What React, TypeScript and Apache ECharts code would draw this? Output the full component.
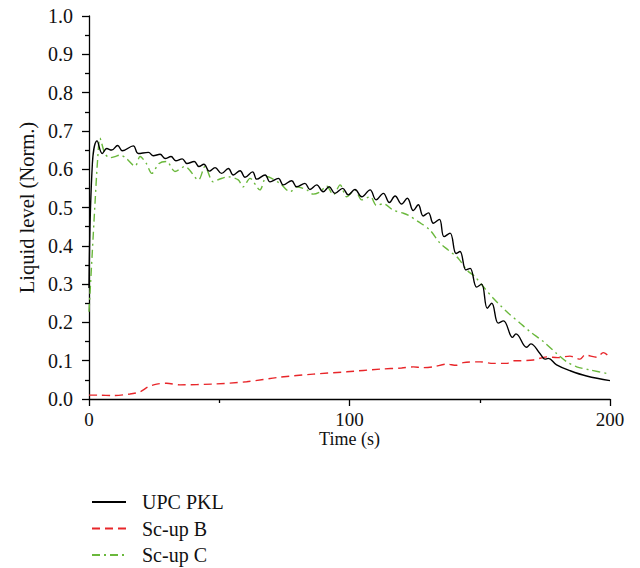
import React, { useEffect, useRef } from "react";
import * as echarts from "echarts";

// UPC PKL (black solid)
const tPKL = [0, 1.3, 3.1, 5.1, 6.8, 8.7, 11, 12.8, 17, 18.9, 22.8, 24.7, 27.3, 29.2, 31.5, 33.3, 35.8, 37.6, 40.4, 42.2, 44.1, 46.2, 48.4, 50.9, 53.5, 55.4, 58, 59.9, 62.8, 64.4, 67.6, 69.5, 72.7, 74.6, 77.8, 79.7, 82.9, 84.8, 87.4, 89.9, 92.2, 94.4, 97.4, 99.5, 102.1, 104.7, 107.9, 110.2, 113, 115.3, 117.5, 120, 122.2, 124.5, 126.4, 128.3, 130.3, 132.2, 134.5, 136.3, 138.6, 140.9, 142.4, 144.7, 146.3, 148.8, 150.7, 152.9, 154.6, 157.1, 159.1, 162.6, 163.9, 168, 169.6, 173.1, 175, 176.3, 179.5, 184.6, 191, 200];
const vPKL = [0.29, 0.615, 0.674, 0.641, 0.654, 0.65, 0.662, 0.648, 0.661, 0.641, 0.644, 0.635, 0.639, 0.628, 0.633, 0.622, 0.627, 0.615, 0.62, 0.607, 0.613, 0.595, 0.604, 0.589, 0.602, 0.585, 0.596, 0.579, 0.593, 0.574, 0.585, 0.567, 0.576, 0.559, 0.57, 0.554, 0.563, 0.547, 0.559, 0.541, 0.554, 0.537, 0.55, 0.533, 0.547, 0.528, 0.546, 0.52, 0.537, 0.513, 0.53, 0.509, 0.524, 0.492, 0.507, 0.478, 0.486, 0.459, 0.469, 0.424, 0.433, 0.38, 0.385, 0.337, 0.341, 0.292, 0.3, 0.237, 0.25, 0.198, 0.204, 0.161, 0.17, 0.135, 0.144, 0.119, 0.104, 0.106, 0.089, 0.074, 0.06, 0.048];

// Sc-up B (red dashed)
const tB = [0, 4, 9, 15.7, 19.6, 22.8, 26, 29.8, 34.9, 47.7, 60.5, 73.3, 86.1, 98.9, 111.7, 120, 124.5, 128, 132.2, 137.3, 141, 143.7, 150.1, 155.2, 160.3, 163, 165.5, 170.6, 175.7, 180, 184.6, 188.5, 190.4, 194.9, 197.4, 200];
const vB = [0.01, 0.01, 0.009, 0.013, 0.019, 0.032, 0.039, 0.041, 0.037, 0.039, 0.045, 0.057, 0.065, 0.071, 0.078, 0.081, 0.084, 0.082, 0.084, 0.091, 0.088, 0.095, 0.097, 0.093, 0.093, 0.1, 0.1, 0.102, 0.11, 0.108, 0.112, 0.104, 0.115, 0.109, 0.121, 0.109];

// Sc-up C (green dash-dot)
const tC = [0, 2.3, 3.3, 4.2, 6.1, 8, 10, 11.9, 14, 17.7, 19.6, 22, 24.1, 26.9, 29.8, 33, 36.8, 42, 44.5, 47.7, 50.5, 53.5, 57.3, 59.2, 61.8, 65.6, 68.2, 73.3, 77.2, 79.7, 83.6, 86, 88.7, 91.2, 93.8, 96.4, 98.9, 102.1, 104.7, 108, 110.4, 113, 116.8, 120.7, 123, 126.4, 130.9, 134.7, 137.9, 141.8, 145, 148.2, 151.4, 155.2, 157.8, 161, 165.5, 169.3, 174.4, 179.5, 183.4, 187.2, 192.3, 200];
const vC = [0.228, 0.51, 0.624, 0.681, 0.641, 0.63, 0.633, 0.637, 0.63, 0.608, 0.633, 0.615, 0.589, 0.615, 0.62, 0.594, 0.607, 0.572, 0.607, 0.567, 0.575, 0.58, 0.572, 0.554, 0.576, 0.546, 0.581, 0.563, 0.541, 0.554, 0.546, 0.535, 0.541, 0.556, 0.533, 0.559, 0.528, 0.546, 0.52, 0.528, 0.505, 0.51, 0.493, 0.485, 0.478, 0.463, 0.441, 0.407, 0.389, 0.367, 0.337, 0.319, 0.293, 0.263, 0.245, 0.224, 0.198, 0.176, 0.15, 0.119, 0.097, 0.084, 0.076, 0.065];

const seriesNames = ["UPC PKL", "Sc-up B", "Sc-up C"];
const xLabels = [0, 100, 200];

const zip = (t: number[], v: number[]) => t.map((x, i) => [x, v[i]]);

const FONT = "Liberation Serif";

export default function App() {
  const ref = useRef<HTMLDivElement>(null);
  useEffect(() => {
    if (!ref.current) return;
    const chart = echarts.init(ref.current, undefined, { renderer: "svg" });
    const axisLine = { show: true, lineStyle: { color: "#000", width: 1.3 } };
    chart.setOption({
      animation: false,
      backgroundColor: "#fff",
      grid: { left: 89, top: 16, width: 521, height: 383, containLabel: false },
      xAxis: {
        type: "value",
        min: 0,
        max: 200,
        interval: 100,
        name: "Time (s)",
        nameLocation: "middle",
        nameGap: 31,
        nameMoveOverlap: false,
        nameTextStyle: { fontFamily: FONT, fontSize: 18, color: "#111" },
        axisLine,
        axisTick: { show: true, length: 7, lineStyle: { color: "#000", width: 1.3 } },
        minorTick: { show: true, splitNumber: 2, length: 4, lineStyle: { color: "#000", width: 1.3 } },
        splitLine: { show: false },
        axisLabel: {
          fontFamily: FONT,
          fontSize: 19,
          color: "#111",
          margin: 11,
          formatter: (v: number) => (xLabels.includes(v) ? String(v) : ""),
        },
      },
      yAxis: {
        type: "value",
        min: 0,
        max: 1,
        interval: 0.1,
        name: "Liquid level (Norm.)",
        nameLocation: "middle",
        nameGap: 52,
        nameMoveOverlap: false,
        nameTextStyle: { fontFamily: FONT, fontSize: 20.5, color: "#111" },
        axisLine,
        axisTick: { show: true, length: 7, lineStyle: { color: "#000", width: 1.3 } },
        minorTick: { show: true, splitNumber: 2, length: 4, lineStyle: { color: "#000", width: 1.3 } },
        splitLine: { show: false },
        axisLabel: {
          fontFamily: FONT,
          fontSize: 20,
          color: "#111",
          margin: 16,
          formatter: (v: number) => v.toFixed(1),
        },
      },
      legend: {
        orient: "vertical",
        left: 91,
        top: 492,
        padding: 0,
        itemWidth: 34,
        itemHeight: 14,
        itemGap: 6.5,
        itemStyle: { opacity: 0 },
        textStyle: { fontFamily: FONT, fontSize: 20, color: "#111", lineHeight: 20, padding: [0, 0, 0, 11] },
        data: seriesNames,
      },
      series: [
        {
          name: seriesNames[0],
          type: "line",
          data: zip(tPKL, vPKL),
          symbol: "none",
          smooth: 0.4,
          lineStyle: { color: "#000", width: 1.4, type: "solid" },
          itemStyle: { color: "#000" },
          z: 3,
        },
        {
          name: seriesNames[1],
          type: "line",
          data: zip(tB, vB),
          symbol: "none",
          smooth: 0.3,
          lineStyle: { color: "#e8262a", width: 1.4, type: [8, 5] },
          itemStyle: { color: "#e8262a" },
          z: 2,
        },
        {
          name: seriesNames[2],
          type: "line",
          data: zip(tC, vC),
          symbol: "none",
          smooth: 0.3,
          lineStyle: { color: "#6ab83c", width: 1.4, type: [8, 4, 2, 4] },
          itemStyle: { color: "#6ab83c" },
          z: 2,
        },
      ],
    });
    return () => chart.dispose();
  }, []);
  return (
    <div
      ref={ref}
      style={{ position: "fixed", left: 0, top: 0, width: 640, height: 568, background: "#fff" }}
    />
  );
}
